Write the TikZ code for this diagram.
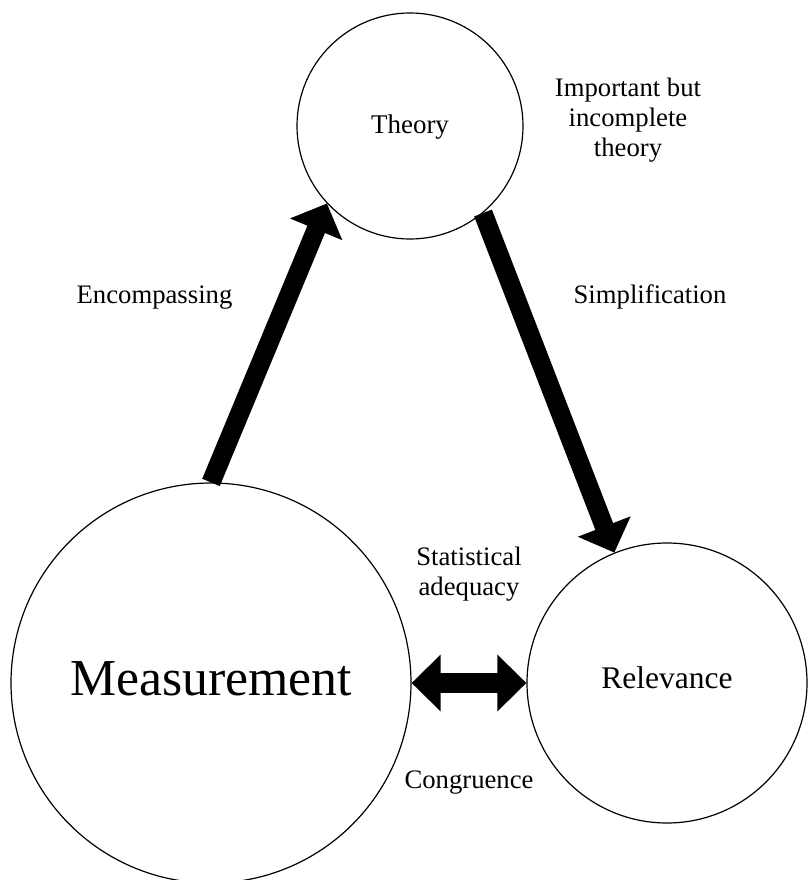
\documentclass[tikz,border=0pt]{standalone}
\usepackage{fontspec}
\setmainfont{Liberation Serif}
\usetikzlibrary{arrows.meta}
\begin{document}
\begin{tikzpicture}[x=1pt,y=-1pt,
  circ/.style={circle,draw,line width=1.2pt,inner sep=0pt,text depth=0pt},
  lbl/.style={font=\fontsize{26.7}{30}\selectfont,align=center,inner sep=0pt},
  fat/.style={line width=19pt,-{Triangle[length=28pt,width=55pt]}},
  fatboth/.style={line width=20pt,{Triangle[length=29pt,width=55pt]}-{Triangle[length=29pt,width=55pt]}}]
\useasboundingbox (0,0) rectangle (807,880);
% the three concepts
\node[circ,minimum size=226pt,text height=14pt,font=\fontsize{27}{30}\selectfont] (T) at (410,126) {Theory};
\node[circ,minimum size=400pt,text height=24pt,font=\fontsize{51.8}{60}\selectfont] (M) at (211,683) {Measurement};
\node[circ,minimum size=280pt,text height=10pt,font=\fontsize{31.5}{36}\selectfont] (R) at (667,683) {Relevance};
% links between them
\draw[fat] (M.north) -- (T.223);
\draw[fat] (T.310) -- (R.112);
\draw[fatboth] (M.east) -- (R.west);
% labels
\node[lbl,anchor=base] (enc) at (154.5,303) {Encompassing};
\node[lbl,anchor=base] (sim) at (650,303) {Simplification};
\node[lbl,anchor=base] (con) at (469,788) {Congruence};
\node[lbl,anchor=center] (sta) at (469,574) {Statistical\\adequacy};
\node[lbl,anchor=center] (imp) at (628,120) {Important but\\incomplete\\theory};
\end{tikzpicture}
\end{document}
